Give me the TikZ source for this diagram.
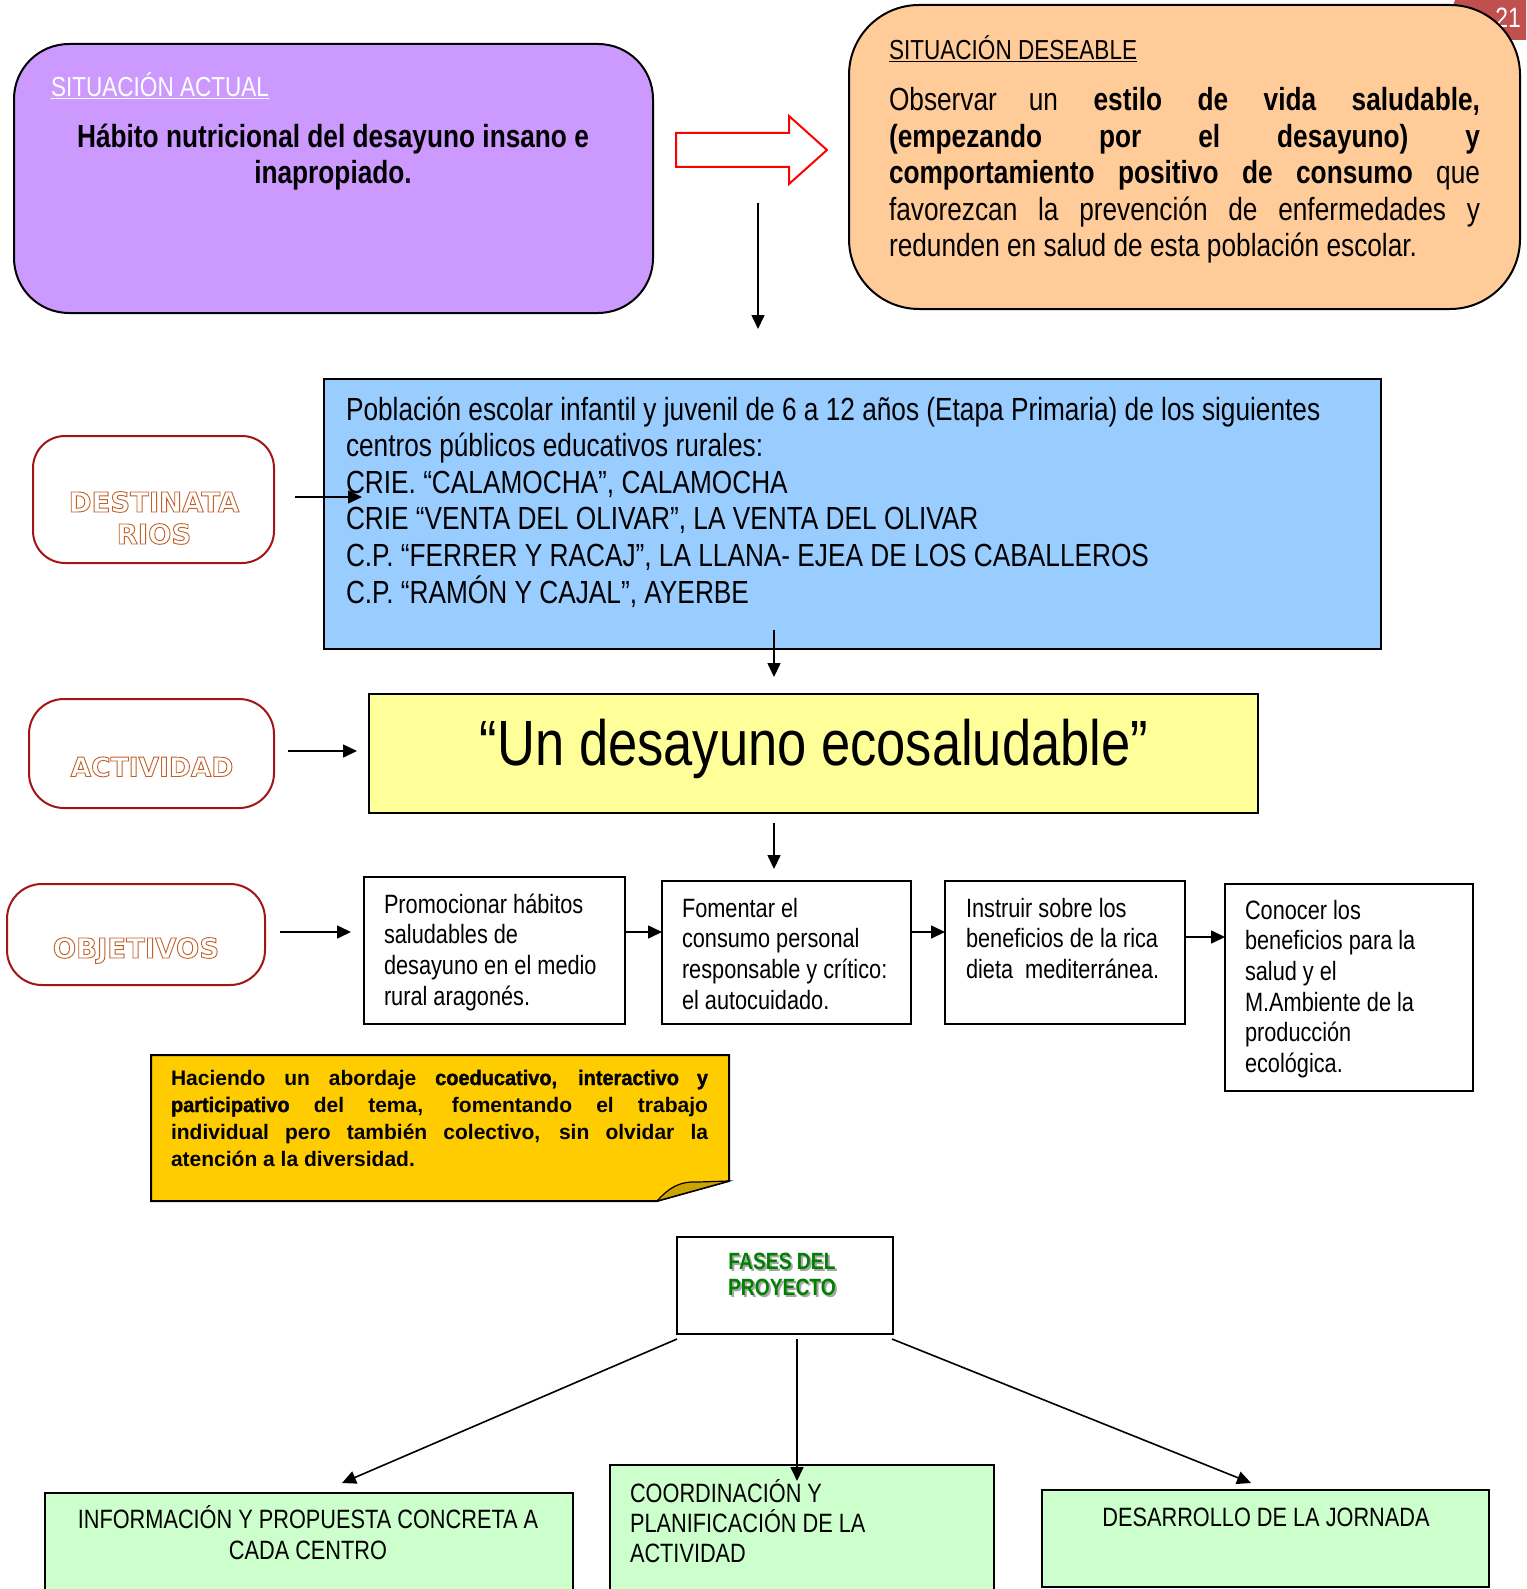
\documentclass[tikz,border=0pt]{standalone}
\usepackage{fontspec}
\setmainfont{Liberation Sans}[FakeStretch=0.82]
\newfontfamily\blk{DejaVu Sans Bold}
\newfontfamily\nbold{Liberation Sans Bold}
\newfontfamily\nheavy{Liberation Sans Bold}[FakeBold=1.4, FakeStretch=0.95]
\usetikzlibrary{arrows.meta}
\definecolor{purp}{HTML}{CC99FF}
\definecolor{oran}{HTML}{FFCC99}
\definecolor{blu}{HTML}{99CCFF}
\definecolor{yel}{HTML}{FFFF99}
\definecolor{note}{HTML}{FFCC00}
\definecolor{fold}{HTML}{CCA300}
\definecolor{grn}{HTML}{CCFFCC}
\definecolor{redb}{HTML}{A31515}
\definecolor{outc}{HTML}{C0602A}
\definecolor{tagc}{HTML}{C0504D}
\definecolor{fgreen}{HTML}{008000}
\newcommand\fsz[2]{\fontsize{#1}{#2}\selectfont}
\newcommand\Top{\rule{0pt}{1em}}
\newcommand\outl[1]{\special{pdf:literal direct 1 Tr 0.9 w}#1\special{pdf:literal direct 0 Tr}}
\tikzset{
 box/.style={draw=black, line width=2pt, inner sep=0pt, outer sep=0pt, anchor=north west},
 rbox/.style={draw=redb, line width=2pt, inner sep=0pt, outer sep=0pt, anchor=north west, fill=white},
 txt/.style={inner sep=0pt, outer sep=0pt, anchor=north west, align=left},
 ctxt/.style={inner sep=0pt, outer sep=0pt, anchor=north, align=center},
 otxt/.style={inner sep=0pt, outer sep=0pt, anchor=north, align=center, text=outc, font=\blk\fsz{27.5}{32}},
 conn/.style={line width=1.6pt, -{Triangle[length=14pt,width=13pt]}},
}
\begin{document}
\begin{tikzpicture}[x=1pt,y=-1pt]
\useasboundingbox (0,0) rectangle (1526,1589);
% page tag
\fill[tagc] (1455,0) -- (1526,0) -- (1526,40) -- (1440,40) -- cycle;
\node[txt, anchor=north, text=white, font=\fsz{28}{30}] (tagnum) at (1508,0) {\Top 21};
% top boxes
\node[box, fill=purp, minimum width=639pt, minimum height=269pt, rounded corners=55pt] (actual) at (14,44) {};
\node[txt, text=white, font=\fsz{27.5}{30}] (actualtitle) at (51,69.5) {\Top\underline{SITUACIÓN ACTUAL}};
\node[ctxt, font=\bfseries\fsz{32}{36}] (actualtext) at (333,116) {\Top Hábito nutricional del desayuno insano e\\inapropiado.};
\node[box, fill=oran, minimum width=671pt, minimum height=304pt, rounded corners=70pt] (deseable) at (849,5) {};
\node[txt, font=\fsz{27.5}{30}] (deseabletitle) at (889,32.5) {\Top\underline{SITUACIÓN DESEABLE}};
\node[txt, text width=591pt, align=justify, font=\fsz{32}{36.5}] (deseabletext) at (889,79)
 {\noindent\Top Observar\quad un \textbf{estilo de vida saludable,}\linebreak
 \textbf{(empezando por el desayuno) y}\linebreak
 \textbf{comportamiento positivo de consumo} que\linebreak
 favorezcan la prevención de enfermedades y\linebreak
 redunden en salud de esta población escolar.};
% hollow red arrow
\draw[red, line width=2pt, line join=miter] (676,133) -- (789,133) -- (789,116) -- (827,150) -- (789,184) -- (789,167) -- (676,167) -- cycle;
\coordinate (v1a) at (758,203);
\coordinate (v1b) at (758,329);
\draw[conn] (v1a) -- (v1b);
% destinatarios
\node[box, fill=blu, minimum width=1057pt, minimum height=270pt] (blue) at (324,379) {};
\node[txt, font=\fsz{32}{36.6}] (bluetext) at (346,388) {\Top Población escolar infantil y juvenil de 6 a 12 años (Etapa Primaria) de los siguientes\\
centros públicos educativos rurales:\\
CRIE. “CALAMOCHA”, CALAMOCHA\\
CRIE “VENTA DEL OLIVAR”, LA VENTA DEL OLIVAR\\
C.P. “FERRER Y RACAJ”, LA LLANA- EJEA DE LOS CABALLEROS\\
C.P. “RAMÓN Y CAJAL”, AYERBE};
\node[rbox, minimum width=241pt, minimum height=127pt, rounded corners=32pt] (destin) at (33,436) {};
\node[otxt] (destintext) at (154,484.5) {\Top\outl{DESTINATA}\\\outl{RIOS}};
\coordinate (da) at (295,497);
\coordinate (db) at (362,497);
\draw[conn] (da) -- (db);
% actividad
\coordinate (ba) at (774,630);
\coordinate (bb) at (774,677);
\draw[conn] (ba) -- (bb);
\node[rbox, minimum width=245pt, minimum height=109pt, rounded corners=35pt] (activ) at (29,699) {};
\node[otxt, font=\blk\fsz{26.5}{32}] (activtext) at (152,750) {\Top\outl{ACTIVIDAD}};
\node[box, fill=yel, minimum width=889pt, minimum height=119pt] (yellow) at (369,694) {};
\node[ctxt, font=\fsz{64}{68}] (yellowtext) at (814,701) {\Top “Un desayuno ecosaludable”};
\coordinate (aa) at (288,751);
\coordinate (ab) at (357,751);
\draw[conn] (aa) -- (ab);
\coordinate (ya) at (774,823);
\coordinate (yb) at (774,869);
\draw[conn] (ya) -- (yb);
% objetivos
\node[rbox, minimum width=258pt, minimum height=101pt, rounded corners=35pt] (objet) at (7,884) {};
\node[otxt] (objettext) at (136,930.5) {\Top\outl{OBJETIVOS}};
\coordinate (oa) at (280,932);
\coordinate (ob) at (351,932);
\draw[conn] (oa) -- (ob);
\node[box, fill=white, minimum width=261pt, minimum height=147pt] (o1) at (364,877) {};
\node[box, fill=white, minimum width=249pt, minimum height=143pt] (o2) at (662,881) {};
\node[box, fill=white, minimum width=240pt, minimum height=143pt] (o3) at (945,881) {};
\node[box, fill=white, minimum width=248pt, minimum height=207pt] (o4) at (1225,884) {};
\node[txt, font=\fsz{26.5}{30.7}] (o1text) at (384,886.5) {\Top Promocionar hábitos\\saludables de\\desayuno en el medio\\rural aragonés.};
\node[txt, font=\fsz{26.5}{30.7}] (o2text) at (682,890.5) {\Top Fomentar el\\consumo personal\\responsable y crítico:\\el autocuidado.};
\node[txt, font=\fsz{26.5}{30.7}] (o3text) at (966,890.5) {\Top Instruir sobre los\\beneficios de la rica\\dieta \ mediterránea.};
\node[txt, font=\fsz{26.5}{30.7}] (o4text) at (1245,892.5) {\Top Conocer los\\beneficios para la\\salud y el\\M.Ambiente de la\\producción\\ecológica.};
\draw[conn] (o1.east |- 0,932) -- (o2.west |- 0,932);
\draw[conn] (o2.east |- 0,932) -- (o3.west |- 0,932);
\draw[conn] (o3.east |- 0,937) -- (o4.west |- 0,937);
% note
\draw[line width=2pt, fill=note, line join=miter] (151,1055) -- (729,1055) -- (729,1181) -- (657,1201) -- (151,1201) -- cycle;
\draw[line width=1.2pt, fill=fold] (657,1201) .. controls (668,1189) and (678,1181) .. (698,1182) -- (729,1181) -- cycle;
\node[txt, text width=537pt, align=justify, font=\nbold\fsz{21}{27}] (notetext) at (171,1064)
 {\noindent\Top Haciendo un abordaje {\nheavy coeducativo, interactivo y}\linebreak
 {\nheavy participativo} del tema, fomentando el trabajo\linebreak
 individual pero también colectivo, sin olvidar la\linebreak
 atención a la diversidad.};
% fases
\node[box, fill=white, minimum width=216pt, minimum height=97pt] (fases) at (677,1237) {};
\node[ctxt, text=gray!70, font=\bfseries\fsz{23.5}{26}] (fasesshadow) at (784,1247.5) {\Top FASES DEL\\PROYECTO};
\node[ctxt, text=fgreen, font=\bfseries\fsz{23.5}{26}] (fasestext) at (782,1245.5) {\Top FASES DEL\\PROYECTO};
\node[box, fill=grn, minimum width=528pt, minimum height=120pt] (b1) at (45,1493) {};
\node[box, fill=grn, minimum width=384pt, minimum height=150pt] (b2) at (610,1465) {};
\node[box, fill=grn, minimum width=447pt, minimum height=97pt] (b3) at (1042,1490) {};
\node[ctxt, font=\fsz{26.5}{31}] (b1text) at (308,1501.5) {\Top INFORMACIÓN Y PROPUESTA CONCRETA A\\CADA CENTRO};
\node[txt, font=\fsz{26.5}{30}] (b2text) at (630,1475.5) {\Top COORDINACIÓN Y\\PLANIFICACIÓN DE LA\\ACTIVIDAD};
\node[ctxt, font=\fsz{26.5}{31}] (b3text) at (1266,1499.5) {\Top DESARROLLO DE LA JORNADA};
\coordinate (f1) at (677,1339);
\coordinate (f1e) at (342,1483);
\coordinate (f2) at (797,1339);
\coordinate (f2e) at (797,1481);
\coordinate (f3) at (892,1339);
\coordinate (f3e) at (1251,1483);
\draw[conn] (f1) -- (f1e);
\draw[conn] (f2) -- (f2e);
\draw[conn] (f3) -- (f3e);
\end{tikzpicture}
\end{document}
